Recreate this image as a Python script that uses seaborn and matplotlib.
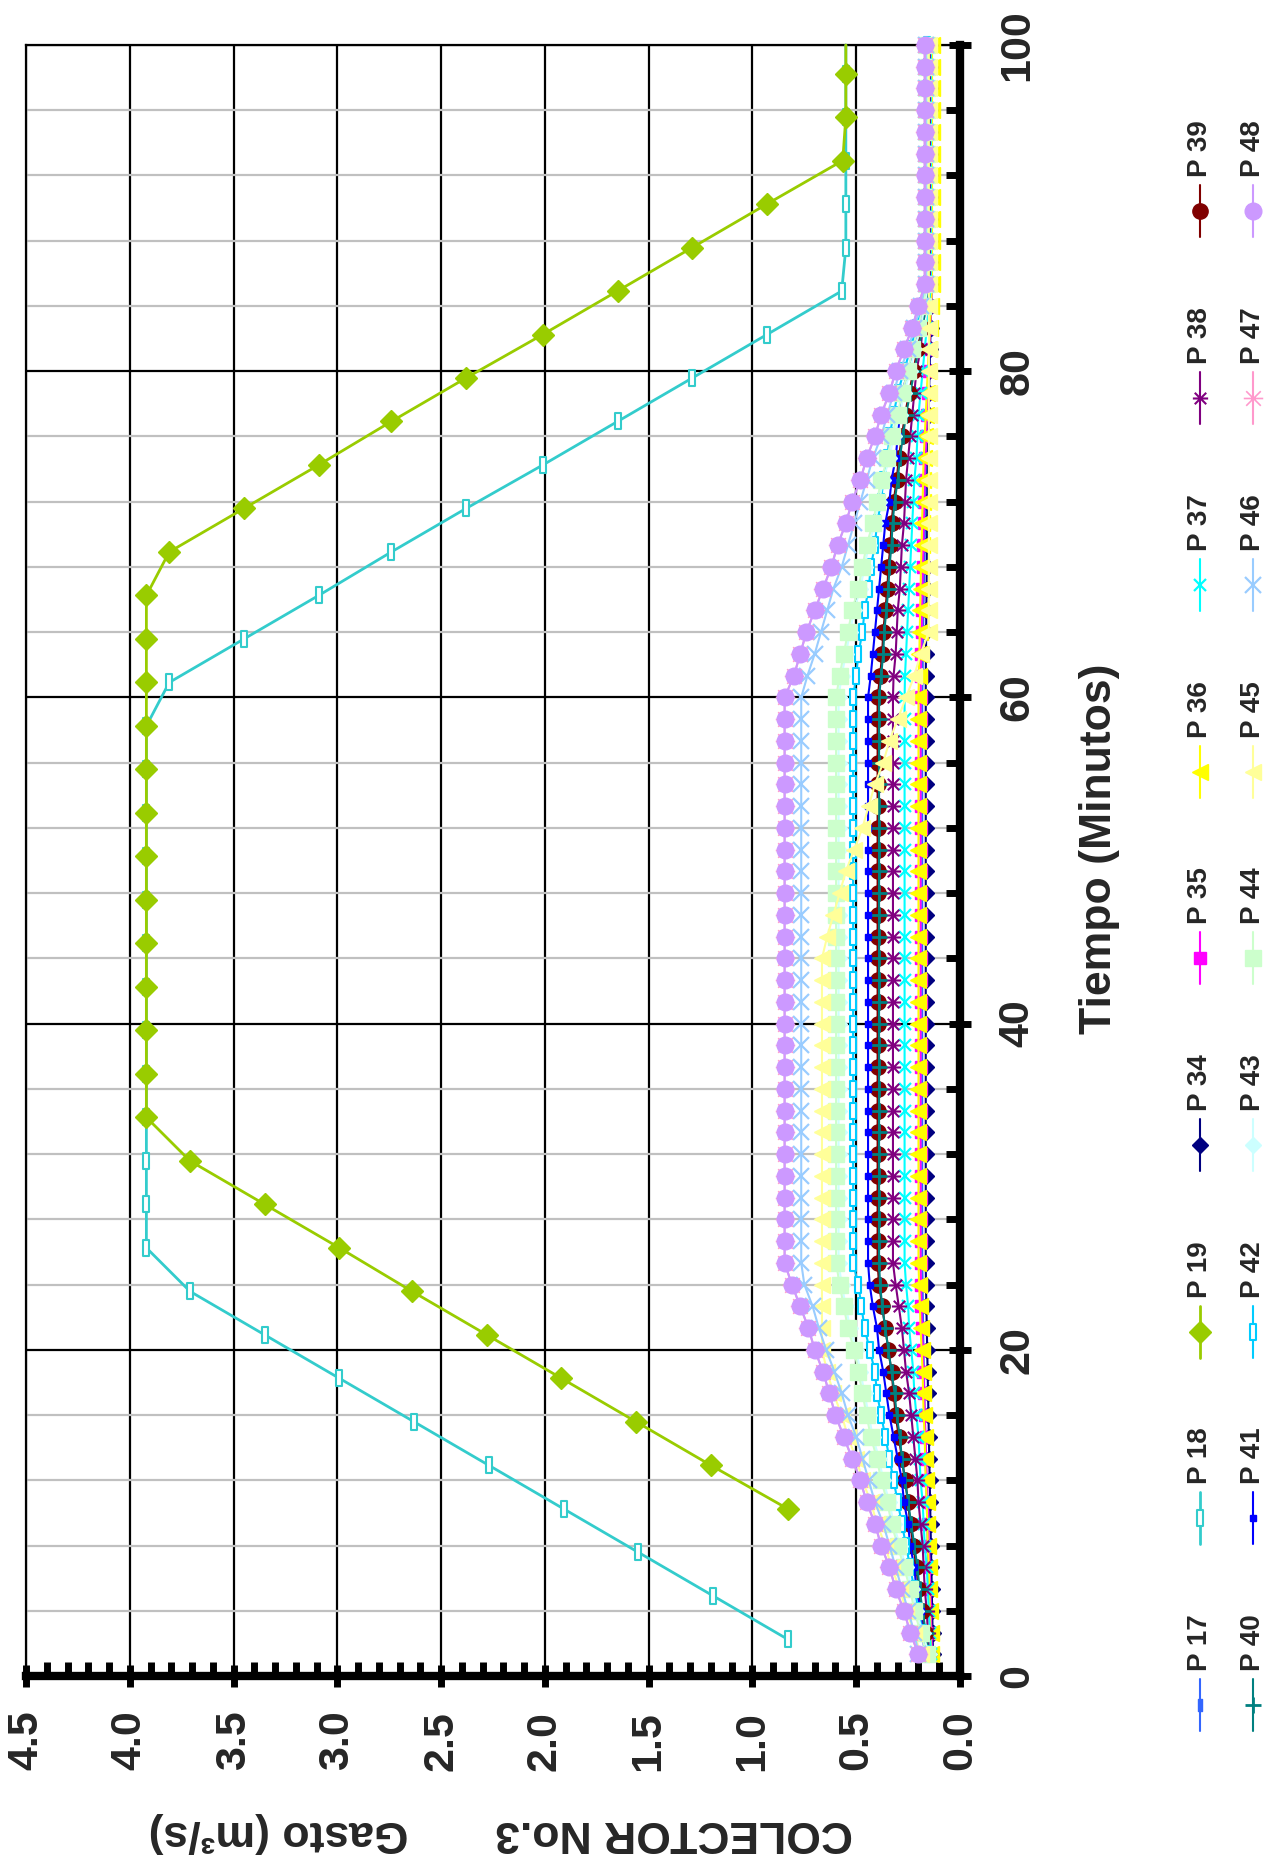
import numpy as np
import matplotlib
matplotlib.use("Agg")
import matplotlib.pyplot as plt
from matplotlib.lines import Line2D
from matplotlib.path import Path
from matplotlib.ticker import MultipleLocator, FormatStrFormatter
import seaborn as sns

sns.set_style("white")
plt.rcParams["font.family"] = ["Liberation Sans", "DejaVu Sans"]
plt.rcParams["font.weight"] = "bold"

# ---- data (Gasto m3/s vs Tiempo min) ----
t_small = np.arange(1, 76) * 4 / 3                       # 1.33 ... 100
t_big = np.append(2.25 + np.arange(37) * 8 / 3, 100.0)   # 2.25 ... 98.4, 100

p18 = [0.83, 1.19, 1.55, 1.91, 2.27, 2.63, 2.99, 3.35, 3.71] + [3.92] * 13 + \
      [3.81, 3.45, 3.09, 2.74, 2.38, 2.01, 1.65, 1.29, 0.93, 0.57] + [0.55] * 6
p19 = [0.83, 1.20, 1.56, 1.92, 2.28, 2.64, 2.99, 3.35, 3.71] + [3.92] * 13 + \
      [3.81, 3.45, 3.09, 2.74, 2.38, 2.01, 1.65, 1.29, 0.93, 0.565] + [0.55] * 3

p48 = [0.20, 0.24, 0.27, 0.31, 0.34, 0.38, 0.41, 0.45, 0.48, 0.52, 0.56, 0.60, 0.63, 0.66, 0.70, 0.73, 0.77, 0.81] + \
      [0.845] * 27 + \
      [0.80, 0.77, 0.74, 0.70, 0.66, 0.62, 0.59, 0.55, 0.52, 0.48, 0.45, 0.41, 0.38, 0.34, 0.31, 0.27, 0.23, 0.20] + \
      [0.17] * 12
p47 = list(p48)  # lies under P48
p46 = [0.20, 0.22, 0.25, 0.28, 0.31, 0.34, 0.37, 0.41, 0.44, 0.47, 0.50, 0.54, 0.57, 0.605, 0.645, 0.68, 0.71, 0.75] + \
      [0.765] * 27 + \
      [0.735, 0.70, 0.67, 0.64, 0.61, 0.57, 0.54, 0.51, 0.48, 0.45, 0.42, 0.38, 0.35, 0.32, 0.29, 0.25, 0.22, 0.19] + \
      [0.165] * 12
p45 = [0.19, 0.22, 0.26, 0.29, 0.33, 0.36, 0.40, 0.43, 0.47, 0.50, 0.54, 0.57, 0.61, 0.64] + \
      [0.665] * 19 + \
      [0.64, 0.61, 0.58, 0.55, 0.51, 0.47, 0.44, 0.41, 0.37, 0.34, 0.30, 0.26, 0.22, 0.19] + \
      [0.15] * 28
p44 = [0.16, 0.19, 0.22, 0.24, 0.27, 0.30, 0.33, 0.35, 0.38, 0.40, 0.43, 0.45, 0.47, 0.49, 0.51, 0.54, 0.56, 0.58] + \
      [0.597] * 27 + \
      [0.58, 0.56, 0.54, 0.52, 0.49, 0.47, 0.45, 0.42, 0.40, 0.38, 0.35, 0.33, 0.30, 0.28, 0.25, 0.23, 0.20, 0.18] + \
      [0.16] * 12
p43 = [0.15, 0.18, 0.21, 0.23, 0.26, 0.29, 0.32, 0.34, 0.37, 0.39, 0.42, 0.44, 0.46, 0.48, 0.50, 0.53, 0.55, 0.57] + \
      [0.585] * 27 + \
      [0.57, 0.55, 0.53, 0.51, 0.48, 0.46, 0.44, 0.41, 0.39, 0.37, 0.34, 0.32, 0.29, 0.27, 0.24, 0.22, 0.19, 0.17] + \
      [0.155] * 12
p42 = [0.16, 0.18, 0.20, 0.22, 0.24, 0.26, 0.28, 0.30, 0.32, 0.34, 0.36, 0.38, 0.40, 0.41, 0.435, 0.46, 0.475, 0.49] + \
      [0.515] * 27 + \
      [0.50, 0.49, 0.47, 0.46, 0.44, 0.43, 0.41, 0.40, 0.38, 0.37, 0.35, 0.34, 0.32, 0.30, 0.27, 0.24, 0.21, 0.18] + \
      [0.16] * 12
p41 = [0.17, 0.18, 0.19, 0.21, 0.22, 0.24, 0.25, 0.27, 0.28, 0.30, 0.32, 0.34, 0.355, 0.37, 0.39, 0.40, 0.42, 0.435] + \
      [0.443] * 27 + \
      [0.43, 0.42, 0.41, 0.40, 0.39, 0.38, 0.37, 0.36, 0.34, 0.33, 0.31, 0.30, 0.29, 0.28, 0.25, 0.22, 0.20, 0.18] + \
      [0.155] * 12
p40 = [0.15, 0.165, 0.18, 0.195, 0.205, 0.22, 0.235, 0.25, 0.265, 0.28, 0.29, 0.305, 0.315, 0.33, 0.345, 0.36, 0.375, 0.385] + \
      [0.39] * 27 + \
      [0.38, 0.37, 0.365, 0.355, 0.345, 0.34, 0.33, 0.325, 0.315, 0.30, 0.29, 0.275, 0.26, 0.24, 0.22, 0.20, 0.18, 0.165] + \
      [0.15] * 12
p39 = [0.155, 0.17, 0.185, 0.20, 0.21, 0.225, 0.24, 0.25, 0.265, 0.28, 0.295, 0.31, 0.32, 0.33, 0.345, 0.36, 0.375, 0.39] + \
      [0.397] * 27 + \
      [0.385, 0.375, 0.37, 0.36, 0.35, 0.345, 0.335, 0.33, 0.32, 0.305, 0.295, 0.28, 0.265, 0.245, 0.225, 0.205, 0.185, 0.17] + \
      [0.15] * 12
p38 = [0.15, 0.155, 0.16, 0.17, 0.175, 0.18, 0.19, 0.20, 0.205, 0.215, 0.225, 0.235, 0.245, 0.26, 0.27, 0.28, 0.295, 0.31] + \
      [0.323] * 27 + \
      [0.32, 0.31, 0.305, 0.30, 0.29, 0.285, 0.28, 0.27, 0.265, 0.26, 0.25, 0.24, 0.23, 0.22, 0.21, 0.19, 0.18, 0.165] + \
      [0.145] * 12
p37 = [0.14, 0.145, 0.15, 0.155, 0.16, 0.17, 0.175, 0.18, 0.19, 0.195, 0.20, 0.21, 0.22, 0.225, 0.235, 0.245, 0.25, 0.26] + \
      [0.267] * 27 + \
      [0.265, 0.26, 0.255, 0.25, 0.245, 0.24, 0.235, 0.23, 0.225, 0.22, 0.21, 0.205, 0.20, 0.19, 0.18, 0.17, 0.16, 0.15] + \
      [0.14] * 12
p36 = [0.14, 0.142, 0.145, 0.148, 0.15, 0.155, 0.158, 0.16, 0.165, 0.168, 0.17, 0.175, 0.178, 0.18, 0.185, 0.19, 0.193, 0.197] + \
      [0.20] * 27 + \
      [0.198, 0.196, 0.194, 0.192, 0.19, 0.188, 0.185, 0.183, 0.18, 0.178, 0.175, 0.17, 0.165, 0.16, 0.155, 0.15, 0.145, 0.14] + \
      [0.135] * 12
p35 = [0.135, 0.138, 0.14, 0.143, 0.146, 0.15, 0.153, 0.156, 0.16, 0.163, 0.166, 0.17, 0.173, 0.176, 0.18, 0.183, 0.186, 0.188] + \
      [0.19] * 27 + \
      [0.189, 0.187, 0.185, 0.183, 0.181, 0.179, 0.177, 0.175, 0.172, 0.17, 0.167, 0.163, 0.16, 0.156, 0.152, 0.148, 0.143, 0.139] + \
      [0.135] * 12
p34 = [0.13, 0.132, 0.134, 0.136, 0.138, 0.14, 0.142, 0.144, 0.146, 0.148, 0.15, 0.152, 0.154, 0.156, 0.158, 0.16, 0.162, 0.164] + \
      [0.165] * 27 + \
      [0.165, 0.164, 0.163, 0.162, 0.161, 0.16, 0.159, 0.158, 0.157, 0.156, 0.155, 0.153, 0.151, 0.149, 0.147, 0.145, 0.142, 0.14] + \
      [0.138] * 12
p17 = [0.135, 0.14, 0.145, 0.15, 0.152, 0.155, 0.158, 0.16, 0.163, 0.166, 0.168, 0.17, 0.172, 0.174, 0.176, 0.178, 0.179, 0.18] + \
      [0.182] * 27 + \
      [0.18, 0.179, 0.178, 0.176, 0.174, 0.172, 0.17, 0.168, 0.166, 0.163, 0.16, 0.157, 0.154, 0.151, 0.148, 0.145, 0.142, 0.14] + \
      [0.137] * 12

labels = ["P 17", "P 18", "P 19", "P 34", "P 35", "P 36", "P 37", "P 38", "P 39",
          "P 40", "P 41", "P 42", "P 43", "P 44", "P 45", "P 46", "P 47", "P 48"]

# ---- marker shapes ----
bar = Path([(-1, -3), (1, -3), (1, 3), (-1, 3), (-1, -3)],
           [Path.MOVETO, Path.LINETO, Path.LINETO, Path.LINETO, Path.CLOSEPOLY])
aster = Path([(-1, 0), (1, 0), (-0.75, -0.75), (0.75, 0.75), (-0.75, 0.75), (0.75, -0.75)],
             [Path.MOVETO, Path.LINETO, Path.MOVETO, Path.LINETO, Path.MOVETO, Path.LINETO])

styles = {
    "P 17": dict(color="#3366FF", marker=bar, ms=9, mfc="#3366FF", mew=1),
    "P 18": dict(color="#33CCCC", marker=bar, ms=11, mfc="white", mew=1.5, lw=2),
    "P 19": dict(color="#99CC00", marker="D", ms=11, mfc="#99CC00", mew=1, lw=2),
    "P 34": dict(color="#000080", marker="D", ms=8, mfc="#000080", mew=1),
    "P 35": dict(color="#FF00FF", marker="s", ms=9, mfc="#FF00FF", mew=1),
    "P 36": dict(color="#FFFF00", marker="<", ms=12, mfc="#FFFF00", mew=1),
    "P 37": dict(color="#00FFFF", marker="x", ms=9, mfc="none", mew=1.6),
    "P 38": dict(color="#800080", marker=aster, ms=11, mfc="none", mew=1.5),
    "P 39": dict(color="#800000", marker="o", ms=11, mfc="#800000", mew=1),
    "P 40": dict(color="#008080", marker="+", ms=11, mfc="none", mew=2),
    "P 41": dict(color="#0000FF", marker="s", ms=5, mfc="#0000FF", mew=1),
    "P 42": dict(color="#00CCFF", marker=bar, ms=11, mfc="white", mew=1.5),
    "P 43": dict(color="#CCFFFF", marker="D", ms=8, mfc="#CCFFFF", mew=1),
    "P 44": dict(color="#CCFFCC", marker="s", ms=11, mfc="#CCFFCC", mew=1),
    "P 45": dict(color="#FFFF99", marker="<", ms=12, mfc="#FFFF99", mew=1),
    "P 46": dict(color="#99CCFF", marker="x", ms=11, mfc="none", mew=1.6),
    "P 47": dict(color="#FF99CC", marker=aster, ms=14, mfc="none", mew=1.2),
    "P 48": dict(color="#CC99FF", marker="o", ms=12, mfc="#CC99FF", mew=1),
}

series = [
    ("P 17", p17, t_small), ("P 18", p18, t_big), ("P 19", p19, t_big[3:]),
    ("P 34", p34, t_small), ("P 35", p35, t_small), ("P 36", p36, t_small),
    ("P 37", p37, t_small), ("P 38", p38, t_small), ("P 39", p39, t_small),
    ("P 40", p40, t_small), ("P 41", p41, t_small), ("P 42", p42, t_small),
    ("P 43", p43, t_small), ("P 44", p44, t_small), ("P 45", p45, t_small),
    ("P 46", p46, t_small), ("P 47", p47, t_small), ("P 48", p48, t_small),
]

W, H = 1284, 1863
fig = plt.figure(figsize=(W / 100, H / 100), dpi=100)
ax = fig.add_axes([26 / W, 1 - 1676 / H, (960 - 26) / W, (1676 - 45) / H])

for name, vals, tt in series:
    st = styles[name]
    every = list(range(len(vals) - 1)) if name in ("P 18", "P 19") else None
    sns.lineplot(x=vals, y=tt, orient="y", sort=False, estimator=None, ax=ax, legend=False,
                 color=st["color"], linewidth=st.get("lw", 1.5), marker=st["marker"],
                 markersize=st["ms"], markerfacecolor=st["mfc"], markeredgecolor=st["color"],
                 markeredgewidth=st["mew"], markevery=every, clip_on=False, zorder=3)

ax.set_xlim(4.5, 0)
ax.set_ylim(0, 100)
ax.xaxis.set_major_locator(MultipleLocator(0.5))
ax.xaxis.set_minor_locator(MultipleLocator(0.1))
ax.xaxis.set_major_formatter(FormatStrFormatter("%.1f"))
ax.yaxis.set_major_locator(MultipleLocator(20))
ax.yaxis.set_minor_locator(MultipleLocator(4))
ax.yaxis.tick_right()
ax.set_axisbelow(True)
ax.grid(which="major", color="black", linewidth=1.6)
ax.grid(which="minor", axis="y", color="#C0C0C0", linewidth=1.6)

# seaborn's white style switches bottom ticks off, so turn them back on
ax.tick_params(which="both", bottom=True, top=False, left=False, right=True)
ax.tick_params(which="major", direction="inout", length=16, width=5, color="black")
ax.tick_params(which="minor", direction="in", length=10, width=5, color="black")
ax.tick_params(axis="x", which="major", labelsize=31, labelrotation=90, pad=17)
ax.tick_params(axis="y", which="major", labelsize=31, labelrotation=90, pad=19)
for lab in ax.get_yticklabels():
    lab.set_va("center")
    lab.set_ha("left")

for side in ("bottom", "right"):
    ax.spines[side].set_linewidth(6)
    ax.spines[side].set_color("black")
for side in ("top", "left"):
    ax.spines[side].set_linewidth(1.6)
    ax.spines[side].set_color("black")
ax.set_xlabel("")
ax.set_ylabel("")

fig.text(1099 / W, 1 - 849 / H, "Tiempo (Minutos)", rotation=90, ha="center", va="center",
         fontsize=32, fontweight="bold")
fig.text(501 / W, 1 - 1833 / H, "COLECTOR No.3       Gasto (m³/s)", rotation=180,
         ha="center", va="center", fontsize=32, fontweight="bold")

# ---- legend, drawn in the rotated layout ----
for i, name in enumerate(labels):
    st = styles[name]
    col, k = divmod(i, 9)
    xp = 1200 if col == 0 else 1253
    yt = 1671 - 186.7 * k
    fig.add_artist(Line2D([xp / W, xp / W], [1 - (yt + 8) / H, 1 - (yt + 60) / H],
                          transform=fig.transFigure, color=st["color"], linewidth=st.get("lw", 1.5)))
    fig.add_artist(Line2D([xp / W], [1 - (yt + 34) / H], transform=fig.transFigure,
                          linestyle="none", marker=st["marker"], markersize=st["ms"],
                          markerfacecolor=st["mfc"], markeredgecolor=st["color"],
                          markeredgewidth=st["mew"]))
    fig.text(xp / W, 1 - yt / H, name, rotation=90, ha="center", va="bottom",
             fontsize=20, fontweight="bold")

fig.savefig("out.png", dpi=100)
